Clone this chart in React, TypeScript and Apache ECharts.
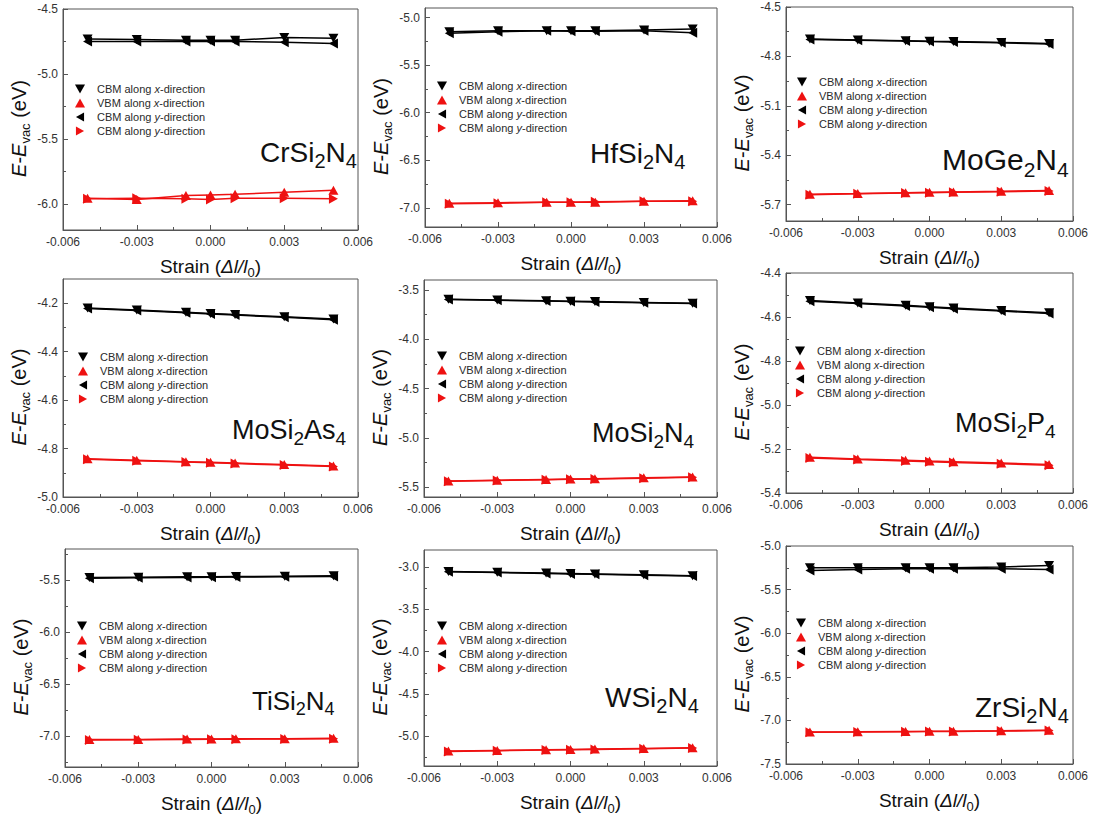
import React, { useEffect, useRef } from 'react';
import * as echarts from 'echarts';

const FONT = '"Liberation Sans", Arial, sans-serif';

// strain values (x)
const STRAIN = [-0.005, -0.003, -0.001, 0, 0.001, 0.003, 0.005];

const MATERIALS = ['CrSi2N4', 'HfSi2N4', 'MoGe2N4', 'MoSi2As4', 'MoSi2N4', 'MoSi2P4', 'TiSi2N4', 'WSi2N4', 'ZrSi2N4'];

// series values, one array per material and band
const CBM_X_CrSi2N4 = [-4.73, -4.735, -4.74, -4.74, -4.74, -4.72, -4.725];
const VBM_X_CrSi2N4 = [-5.955, -5.965, -5.935, -5.93, -5.925, -5.91, -5.895];
const CBM_Y_CrSi2N4 = [-4.75, -4.75, -4.75, -4.75, -4.75, -4.755, -4.765];
const VBM_Y_CrSi2N4 = [-5.96, -5.955, -5.96, -5.965, -5.955, -5.955, -5.96];

const CBM_X_HfSi2N4 = [-5.15, -5.14, -5.14, -5.14, -5.14, -5.13, -5.12];
const VBM_X_HfSi2N4 = [-6.95, -6.945, -6.94, -6.94, -6.94, -6.93, -6.925];
const CBM_Y_HfSi2N4 = [-5.165, -5.15, -5.14, -5.145, -5.145, -5.14, -5.16];
const VBM_Y_HfSi2N4 = [-6.955, -6.95, -6.94, -6.94, -6.935, -6.93, -6.93];

const CBM_X_MoGe2N4 = [-4.695, -4.7, -4.705, -4.708, -4.71, -4.715, -4.722];
const VBM_X_MoGe2N4 = [-5.637, -5.633, -5.628, -5.626, -5.624, -5.62, -5.615];
const CBM_Y_MoGe2N4 = [-4.698, -4.702, -4.707, -4.71, -4.712, -4.717, -4.725];
const VBM_Y_MoGe2N4 = [-5.64, -5.635, -5.63, -5.628, -5.626, -5.622, -5.618];

const CBM_X_MoSi2As4 = [-4.22, -4.228, -4.237, -4.242, -4.247, -4.256, -4.265];
const VBM_X_MoSi2As4 = [-4.842, -4.848, -4.854, -4.857, -4.86, -4.866, -4.872];
const CBM_Y_MoSi2As4 = [-4.222, -4.23, -4.239, -4.244, -4.249, -4.258, -4.268];
const VBM_Y_MoSi2As4 = [-4.844, -4.85, -4.856, -4.859, -4.862, -4.868, -4.874];

const CBM_X_MoSi2N4 = [-3.595, -3.603, -3.611, -3.615, -3.619, -3.627, -3.635];
const VBM_X_MoSi2N4 = [-5.438, -5.43, -5.422, -5.418, -5.414, -5.406, -5.398];
const CBM_Y_MoSi2N4 = [-3.598, -3.606, -3.614, -3.618, -3.622, -3.63, -3.638];
const VBM_Y_MoSi2N4 = [-5.441, -5.433, -5.425, -5.421, -5.417, -5.409, -5.401];

const CBM_X_MoSi2P4 = [-4.525, -4.536, -4.547, -4.553, -4.559, -4.57, -4.581];
const VBM_X_MoSi2P4 = [-5.238, -5.245, -5.251, -5.255, -5.258, -5.264, -5.27];
const CBM_Y_MoSi2P4 = [-4.528, -4.539, -4.55, -4.556, -4.562, -4.573, -4.584];
const VBM_Y_MoSi2P4 = [-5.241, -5.248, -5.254, -5.258, -5.261, -5.267, -5.274];

const CBM_X_TiSi2N4 = [-5.475, -5.472, -5.468, -5.467, -5.465, -5.462, -5.458];
const VBM_X_TiSi2N4 = [-7.036, -7.034, -7.031, -7.03, -7.029, -7.027, -7.024];
const CBM_Y_TiSi2N4 = [-5.482, -5.478, -5.474, -5.472, -5.47, -5.467, -5.464];
const VBM_Y_TiSi2N4 = [-7.04, -7.037, -7.034, -7.033, -7.032, -7.03, -7.027];

const CBM_X_WSi2N4 = [-3.053, -3.063, -3.073, -3.078, -3.083, -3.093, -3.103];
const VBM_X_WSi2N4 = [-5.174, -5.166, -5.158, -5.154, -5.15, -5.142, -5.134];
const CBM_Y_WSi2N4 = [-3.057, -3.067, -3.077, -3.082, -3.087, -3.097, -3.107];
const VBM_Y_WSi2N4 = [-5.178, -5.17, -5.162, -5.158, -5.154, -5.146, -5.138];

const CBM_X_ZrSi2N4 = [-5.25, -5.25, -5.25, -5.25, -5.25, -5.24, -5.225];
const VBM_X_ZrSi2N4 = [-7.132, -7.13, -7.126, -7.125, -7.123, -7.119, -7.113];
const CBM_Y_ZrSi2N4 = [-5.28, -5.27, -5.26, -5.26, -5.26, -5.26, -5.27];
const VBM_Y_ZrSi2N4 = [-7.136, -7.133, -7.13, -7.128, -7.126, -7.122, -7.117];

const CBM_X = [CBM_X_CrSi2N4, CBM_X_HfSi2N4, CBM_X_MoGe2N4, CBM_X_MoSi2As4, CBM_X_MoSi2N4, CBM_X_MoSi2P4, CBM_X_TiSi2N4, CBM_X_WSi2N4, CBM_X_ZrSi2N4];
const VBM_X = [VBM_X_CrSi2N4, VBM_X_HfSi2N4, VBM_X_MoGe2N4, VBM_X_MoSi2As4, VBM_X_MoSi2N4, VBM_X_MoSi2P4, VBM_X_TiSi2N4, VBM_X_WSi2N4, VBM_X_ZrSi2N4];
const CBM_Y = [CBM_Y_CrSi2N4, CBM_Y_HfSi2N4, CBM_Y_MoGe2N4, CBM_Y_MoSi2As4, CBM_Y_MoSi2N4, CBM_Y_MoSi2P4, CBM_Y_TiSi2N4, CBM_Y_WSi2N4, CBM_Y_ZrSi2N4];
const VBM_Y = [VBM_Y_CrSi2N4, VBM_Y_HfSi2N4, VBM_Y_MoGe2N4, VBM_Y_MoSi2As4, VBM_Y_MoSi2N4, VBM_Y_MoSi2P4, VBM_Y_TiSi2N4, VBM_Y_WSi2N4, VBM_Y_ZrSi2N4];

// axis ranges and tick labels
const Y_MIN = [-6.2, -7.2, -5.8, -5.0, -5.6, -5.4, -7.3, -5.35, -7.5];
const Y_MAX = [-4.5, -4.9, -4.5, -4.1, -3.4, -4.4, -5.2, -2.8, -5.0];
const Y_TICKS = [
  [-6.0, -5.5, -5.0, -4.5],
  [-7.0, -6.5, -6.0, -5.5, -5.0],
  [-5.7, -5.4, -5.1, -4.8, -4.5],
  [-5.0, -4.8, -4.6, -4.4, -4.2],
  [-5.5, -5.0, -4.5, -4.0, -3.5],
  [-5.4, -5.2, -5.0, -4.8, -4.6, -4.4],
  [-7.0, -6.5, -6.0, -5.5],
  [-5.0, -4.5, -4.0, -3.5, -3.0],
  [-7.5, -7.0, -6.5, -6.0, -5.5, -5.0],
];
const X_MIN = -0.006;
const X_MAX = 0.006;
const X_STEP = 0.003;

const LEGEND_NAMES = ['cbmx', 'vbmx', 'cbmy', 'vbmy'];
const LEGEND_TEXT: Record<string, string> = {
  cbmx: 'CBM along {i|x}-direction',
  vbmx: 'VBM along {i|x}-direction',
  cbmy: 'CBM along {i|y}-direction',
  vbmy: 'CBM along {i|y}-direction',
};

// layout (pixels)
const GRIDS = [
  { left: 63, top: 9, width: 295, height: 221 },
  { left: 425, top: 8, width: 292, height: 219 },
  { left: 786, top: 7, width: 287, height: 214 },
  { left: 63, top: 279, width: 295, height: 218 },
  { left: 424, top: 280, width: 293, height: 217 },
  { left: 786, top: 273, width: 287, height: 220 },
  { left: 65, top: 549, width: 293, height: 218 },
  { left: 424, top: 550, width: 293, height: 216 },
  { left: 786, top: 546, width: 287, height: 218 },
];
// icon centre x, first row centre y
const LEGEND_POS = [
  [80, 89], [442, 86], [802, 82],
  [83, 357], [442, 356], [800, 351],
  [82, 626], [442, 626], [801, 623],
];
const TITLE_POS = [
  [260, 133], [590, 134], [942, 139],
  [232, 412], [592, 415], [955, 405],
  [252, 683], [605, 678], [975, 688],
];
const TITLE_SIZE = [28, 28, 30, 27, 27, 27, 26, 28, 28];

const DOWN = 'path://M0,0L10,0L5,9Z';
const UP = 'path://M5,0L10,9L0,9Z';
const LEFT = 'path://M0,5L9,0L9,10Z';
const RIGHT = 'path://M0,0L9,5L0,10Z';
const ICONS = [DOWN, UP, LEFT, RIGHT];
const COLORS = ['#000000', '#ee1111', '#000000', '#ee1111'];

const AXIS_COLOR = '#555';

function minorTicks(ticks: number[], min: number, max: number) {
  const out: number[] = [];
  const step = ticks[1] - ticks[0];
  const cands = [ticks[0] - step / 2, ...ticks.map((t) => t + step / 2)];
  cands.forEach((v) => {
    if (v > min + 1e-9 && v < max - 1e-9) out.push(v);
  });
  return out;
}

function buildOption() {
  const title = MATERIALS.map((m, i) => {
    const F = TITLE_SIZE[i];
    return {
      text: m.replace(/(\d)/g, '{s|$1}'),
      left: TITLE_POS[i][0],
      top: TITLE_POS[i][1],
      padding: 0,
      textStyle: {
        fontFamily: FONT,
        fontSize: F,
        fontWeight: 'normal',
        color: '#111',
        lineHeight: Math.round(F * 1.35),
        rich: {
          s: {
            fontFamily: FONT,
            fontSize: Math.round(F * 0.7),
            lineHeight: Math.round(F * 0.7),
            verticalAlign: 'bottom',
            color: '#111',
          },
        },
      },
    };
  });

  const grid = GRIDS.map((g) => ({
    ...g,
    show: true,
    borderColor: AXIS_COLOR,
    borderWidth: 1,
    backgroundColor: 'transparent',
    containLabel: false,
    outerBoundsMode: 'none',
  }));

  const legend = LEGEND_POS.map((p) => ({
    orient: 'vertical',
    left: p[0] - 5,
    top: p[1] - 7,
    padding: 0,
    itemWidth: 10,
    itemHeight: 9,
    itemGap: 0,
    selectedMode: false,
    data: LEGEND_NAMES.map((n, k) => ({ name: n, icon: ICONS[k] })),
    formatter: (name: string) => LEGEND_TEXT[name],
    textStyle: {
      fontFamily: FONT,
      fontSize: 11,
      color: '#2a2a2a',
      lineHeight: 14,
      padding: [0, 0, 0, 7],
      rich: {
        i: { fontFamily: FONT, fontSize: 11, fontStyle: 'italic', color: '#2a2a2a', lineHeight: 14 },
      },
    },
  }));

  const xAxis = GRIDS.map((_, i) => ({
    type: 'value',
    gridIndex: i,
    min: X_MIN,
    max: X_MAX,
    interval: X_STEP,
    position: 'bottom',
    axisLine: { show: true, onZero: false, lineStyle: { color: AXIS_COLOR, width: 1 } },
    axisTick: { show: true, inside: true, length: 5, lineStyle: { color: AXIS_COLOR } },
    minorTick: { show: true, splitNumber: 2, length: 3, lineStyle: { color: AXIS_COLOR } },
    splitLine: { show: false },
    minorSplitLine: { show: false },
    axisLabel: {
      fontFamily: FONT,
      fontSize: 12,
      color: '#333',
      margin: 6,
      showMinLabel: true,
      showMaxLabel: true,
      formatter: (v: number) => (Math.abs(v) < 1e-9 ? 0 : v).toFixed(3),
    },
    name: 'Strain ({i|Δl/l}{s|0})',
    nameLocation: 'middle',
    nameGap: 23,
    nameTextStyle: {
      fontFamily: FONT,
      fontSize: 19,
      color: '#111',
      lineHeight: 26,
      rich: {
        i: { fontFamily: FONT, fontSize: 19, fontStyle: 'italic', color: '#111', lineHeight: 26 },
        s: { fontFamily: FONT, fontSize: 13, color: '#111', lineHeight: 13, verticalAlign: 'bottom' },
      },
    },
  }));

  const yAxis: any[] = [];
  GRIDS.forEach((_, i) => {
    const ticks = Y_TICKS[i];
    yAxis.push({
      type: 'value',
      gridIndex: i,
      min: Y_MIN[i],
      max: Y_MAX[i],
      position: 'left',
      axisLine: { show: true, onZero: false, lineStyle: { color: AXIS_COLOR, width: 1 } },
      axisTick: { show: true, inside: true, length: 5, customValues: ticks, lineStyle: { color: AXIS_COLOR } },
      splitLine: { show: false },
      axisLabel: {
        customValues: ticks,
        fontFamily: FONT,
        fontSize: 12,
        color: '#333',
        margin: 5,
        formatter: (v: number) => v.toFixed(1),
      },
      name: '{i|E}-{i|E}{s|vac} (eV)',
      nameLocation: 'middle',
      nameRotate: 90,
      nameGap: 31,
      nameTextStyle: {
        fontFamily: FONT,
        fontSize: 20,
        color: '#111',
        lineHeight: 27,
        padding: [0, 18, 0, 0],
        rich: {
          i: { fontFamily: FONT, fontSize: 20, fontStyle: 'italic', color: '#111', lineHeight: 27 },
          s: { fontFamily: FONT, fontSize: 13, color: '#111', lineHeight: 13, verticalAlign: 'bottom' },
        },
      },
    });
    yAxis.push({
      type: 'value',
      gridIndex: i,
      min: Y_MIN[i],
      max: Y_MAX[i],
      position: 'left',
      axisLine: { show: false, onZero: false },
      axisTick: {
        show: true,
        inside: true,
        length: 3,
        customValues: minorTicks(ticks, Y_MIN[i], Y_MAX[i]),
        lineStyle: { color: AXIS_COLOR },
      },
      axisLabel: { show: false },
      splitLine: { show: false },
    });
  });

  const series: any[] = [];
  GRIDS.forEach((_, i) => {
    const sets = [CBM_X[i], VBM_X[i], CBM_Y[i], VBM_Y[i]];
    sets.forEach((vals, k) => {
      series.push({
        type: 'line',
        name: LEGEND_NAMES[k],
        xAxisIndex: i,
        yAxisIndex: 2 * i,
        data: STRAIN.map((x, j) => [x, vals[j]]),
        symbol: ICONS[k],
        symbolSize: 10,
        symbolKeepAspect: true,
        showAllSymbol: true,
        silent: true,
        lineStyle: { color: COLORS[k], width: 1.5 },
        itemStyle: { color: COLORS[k] },
        emphasis: { disabled: true },
      });
    });
  });

  return {
    animation: false,
    backgroundColor: '#ffffff',
    title,
    grid,
    legend,
    xAxis,
    yAxis,
    series,
  };
}

export default function App() {
  const ref = useRef<HTMLDivElement>(null);
  useEffect(() => {
    if (!ref.current) return;
    const chart = echarts.init(ref.current, null, { renderer: 'svg' });
    chart.setOption(buildOption() as any);
    return () => chart.dispose();
  }, []);
  return (
    <div
      ref={ref}
      style={{ position: 'absolute', left: 0, top: 0, width: 1094, height: 820, background: '#fff' }}
    />
  );
}
